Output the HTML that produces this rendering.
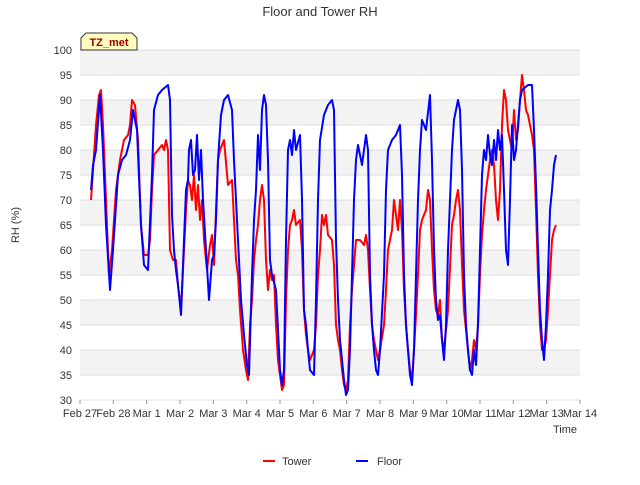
<!DOCTYPE html>
<html><head><meta charset="utf-8"><style>
body{margin:0;background:#fff;font-family:"Liberation Sans",sans-serif}
</style></head><body>
<svg width="640" height="480" xmlns="http://www.w3.org/2000/svg" font-family="Liberation Sans, sans-serif">
<text x="320" y="16" text-anchor="middle" font-size="13" fill="#333">Floor and Tower RH</text>
<g id="bands"></g>
<g id="grid"></g>
<g id="yt"></g>
<g id="xt"></g>
<g id="series"></g>
<text x="565" y="433" text-anchor="middle" font-size="11" fill="#333">Time</text>
<text x="19" y="225" text-anchor="middle" font-size="11" fill="#333" transform="rotate(-90 19 225)">RH (%)</text>
<g>
<path d="M81,50 L81,38 L86,33 L132,33 L137,38 L137,50 Z" fill="#ffffc0" stroke="#333" stroke-width="1"/>
<text x="109" y="46" text-anchor="middle" font-size="11" font-weight="bold" fill="#a00000">TZ_met</text>
</g>
<g>
<line x1="263" y1="461" x2="275" y2="461" stroke="#f00" stroke-width="2"/>
<text x="282" y="465" font-size="11" fill="#333">Tower</text></g>
<g>
<line x1="356" y1="461" x2="368" y2="461" stroke="#00f" stroke-width="2"/>
<text x="377" y="465" font-size="11" fill="#333">Floor</text></g>
</svg>
<script>
const xTickLabels=["Feb 27","Feb 28","Mar 1","Mar 2","Mar 3","Mar 4","Mar 5","Mar 6","Mar 7","Mar 8","Mar 9","Mar 10","Mar 11","Mar 12","Mar 13","Mar 14"];
const yTicks=[30,35,40,45,50,55,60,65,70,75,80,85,90,95,100];
const floorT=[.33,.39,.48,.6,.69,.78,.9,.99,1.14,1.26,1.38,1.5,1.59,1.71,1.83,1.92,2.04,2.16,2.22,2.34,2.46,2.64,2.7,2.76,2.82,2.88,2.94,3.03,3.12,3.18,3.24,3.27,3.33,3.39,3.45,3.51,3.57,3.63,3.69,3.78,3.87,3.96,4.02,4.08,4.14,4.23,4.32,4.44,4.56,4.62,4.74,4.83,4.92,5.01,5.07,5.16,5.22,5.28,5.34,5.4,5.46,5.52,5.58,5.64,5.7,5.76,5.88,5.94,6.0,6.06,6.12,6.18,6.24,6.3,6.36,6.42,6.48,6.6,6.66,6.72,6.78,6.84,6.9,7.02,7.08,7.14,7.2,7.32,7.44,7.56,7.62,7.68,7.74,7.8,7.86,7.92,7.98,8.04,8.1,8.16,8.22,8.28,8.34,8.46,8.58,8.64,8.7,8.76,8.82,8.88,8.94,9.0,9.12,9.18,9.24,9.36,9.48,9.6,9.66,9.72,9.78,9.84,9.9,9.96,10.02,10.08,10.14,10.2,10.26,10.38,10.5,10.56,10.62,10.68,10.74,10.8,10.86,10.92,10.98,11.04,11.16,11.22,11.34,11.4,11.46,11.52,11.58,11.64,11.7,11.76,11.82,11.88,11.94,12.06,12.12,12.18,12.24,12.3,12.36,12.42,12.48,12.54,12.6,12.66,12.72,12.78,12.84,12.9,12.96,13.02,13.08,13.14,13.2,13.26,13.44,13.56,13.62,13.68,13.74,13.8,13.86,13.92,13.98,14.04,14.1,14.16,14.22,14.28];
const floorV=[72,77,80,91,80,65,52,60,75,78,79,82,88,84,65,57,56,75,88,91,92,93,90,67,60,56,53,47,62,72,74,80,82,75,76,83,74,80,70,60,50,58,59,66,78,87,90,91,88,78,62,50,43,37,35,55,66,72,83,76,88,91,89,78,58,55,52,44,36,33,36,62,80,82,79,84,80,83,70,48,45,40,36,35,50,70,82,87,89,90,88,62,50,42,38,34,31,32,40,55,70,78,81,77,83,80,55,45,40,36,35,40,55,72,80,82,83,85,75,55,45,40,35,33,40,55,70,80,86,84,91,78,60,50,46,47,42,38,45,60,80,86,90,88,76,55,45,40,36,35,40,37,45,75,80,78,83,79,77,82,78,84,80,83,72,60,57,70,85,78,80,85,90,92,93,93,84,73,60,48,42,38,45,55,68,72,77,79];
const towerT=[.33,.39,.48,.57,.63,.69,.78,.87,.96,1.08,1.2,1.32,1.44,1.5,1.56,1.65,1.74,1.83,1.92,2.04,2.1,2.16,2.22,2.34,2.46,2.52,2.58,2.64,2.7,2.79,2.88,2.94,3.03,3.12,3.18,3.24,3.3,3.36,3.42,3.48,3.54,3.6,3.66,3.72,3.81,3.9,3.96,4.02,4.08,4.14,4.2,4.32,4.44,4.56,4.62,4.68,4.74,4.8,4.89,4.98,5.04,5.1,5.16,5.22,5.28,5.34,5.4,5.46,5.52,5.58,5.64,5.7,5.76,5.82,5.88,5.94,6.0,6.06,6.12,6.18,6.24,6.3,6.36,6.42,6.48,6.6,6.66,6.72,6.78,6.84,6.9,7.02,7.08,7.14,7.2,7.26,7.32,7.38,7.44,7.56,7.62,7.68,7.74,7.8,7.86,7.92,7.98,8.04,8.1,8.16,8.22,8.28,8.4,8.52,8.58,8.64,8.7,8.76,8.82,8.88,8.94,9.0,9.12,9.18,9.24,9.3,9.36,9.42,9.48,9.54,9.6,9.66,9.72,9.78,9.84,9.9,9.96,10.02,10.08,10.14,10.2,10.26,10.38,10.44,10.5,10.56,10.62,10.68,10.74,10.8,10.86,10.92,10.98,11.04,11.16,11.22,11.28,11.34,11.4,11.46,11.52,11.58,11.64,11.7,11.76,11.82,11.88,11.94,12.0,12.06,12.12,12.18,12.24,12.3,12.36,12.42,12.48,12.54,12.6,12.66,12.72,12.78,12.84,12.9,12.96,13.02,13.08,13.14,13.2,13.26,13.32,13.38,13.44,13.5,13.56,13.62,13.68,13.74,13.8,13.86,13.92,13.98,14.04,14.1,14.16,14.22,14.28];
const towerV=[70,76,85,91,92,85,70,55,60,72,78,82,83,85,90,89,82,65,59,59,62,72,79,80,81,80,82,80,60,58,58,53,48,60,68,74,73,70,75,68,73,66,70,62,56,61,63,57,68,78,80,82,73,74,66,58,55,48,40,36,34,45,50,58,62,65,70,73,70,58,52,56,54,55,45,38,35,32,33,50,60,65,66,68,65,66,60,48,43,40,38,40,45,55,60,67,65,67,63,62,57,45,42,40,36,33,32,34,45,52,57,62,62,61,63,60,52,45,42,40,38,40,45,52,60,62,64,70,67,64,70,64,52,45,40,36,34,40,47,55,64,66,68,72,70,60,52,48,47,50,42,40,44,48,65,67,70,72,68,57,48,44,40,36,38,42,40,45,55,63,68,72,75,78,80,77,70,66,72,85,92,90,84,82,80,88,82,84,90,95,92,88,87,85,83,80,68,55,45,40,40,42,48,55,62,64,65];
const ns="http://www.w3.org/2000/svg";
const X0=80,X1=580,Y0=400,Y1=50;
const xs=d=>X0+(X1-X0)*d/15;
const ys=v=>Y0-(Y0-Y1)*(v-30)/70;
function mk(tag,attrs,parent){const e=document.createElementNS(ns,tag);for(const k in attrs)e.setAttribute(k,attrs[k]);document.getElementById(parent).appendChild(e);return e;}
for(let i=0;i<yTicks.length-1;i++){
  const v=yTicks[i];
  const r=mk('rect',{x:X0,y:ys(v+5),width:X1-X0,height:ys(v)-ys(v+5),fill:(i%2===1)?'#f3f3f3':'#ffffff'},'bands');
  
  
}
yTicks.forEach(v=>{
  const l=mk('line',{x1:X0,x2:X1,y1:ys(v),y2:ys(v),stroke:'#dddddd','stroke-width':1},'grid');
  
  
  const t=mk('text',{x:X0-8,y:ys(v)+4,'text-anchor':'end','font-size':11,fill:'#333'},'yt');
  t.textContent=v;
  
  
});
xTickLabels.forEach((s,i)=>{
  const l=mk('line',{x1:xs(i),x2:xs(i),y1:Y0,y2:Y0+4,stroke:'#999'},'xt');
  
  
  const t=mk('text',{x:xs(i),y:Y0+17,'text-anchor':'middle','font-size':11,fill:'#333'},'xt');
  t.textContent=s;
  
  
});
function line(T,V,color,name){
  const d=T.map((t,i)=>(i?'L':'M')+xs(t).toFixed(1)+','+ys(V[i]).toFixed(1)).join('');
  const p=mk('path',{d:d,fill:'none',stroke:color,'stroke-width':2,'stroke-linejoin':'round'},'series');
  
  
}
line(towerT,towerV,'#ff0000','tower-line');
line(floorT,floorV,'#0000ff','floor-line');
</script>
</body></html>
